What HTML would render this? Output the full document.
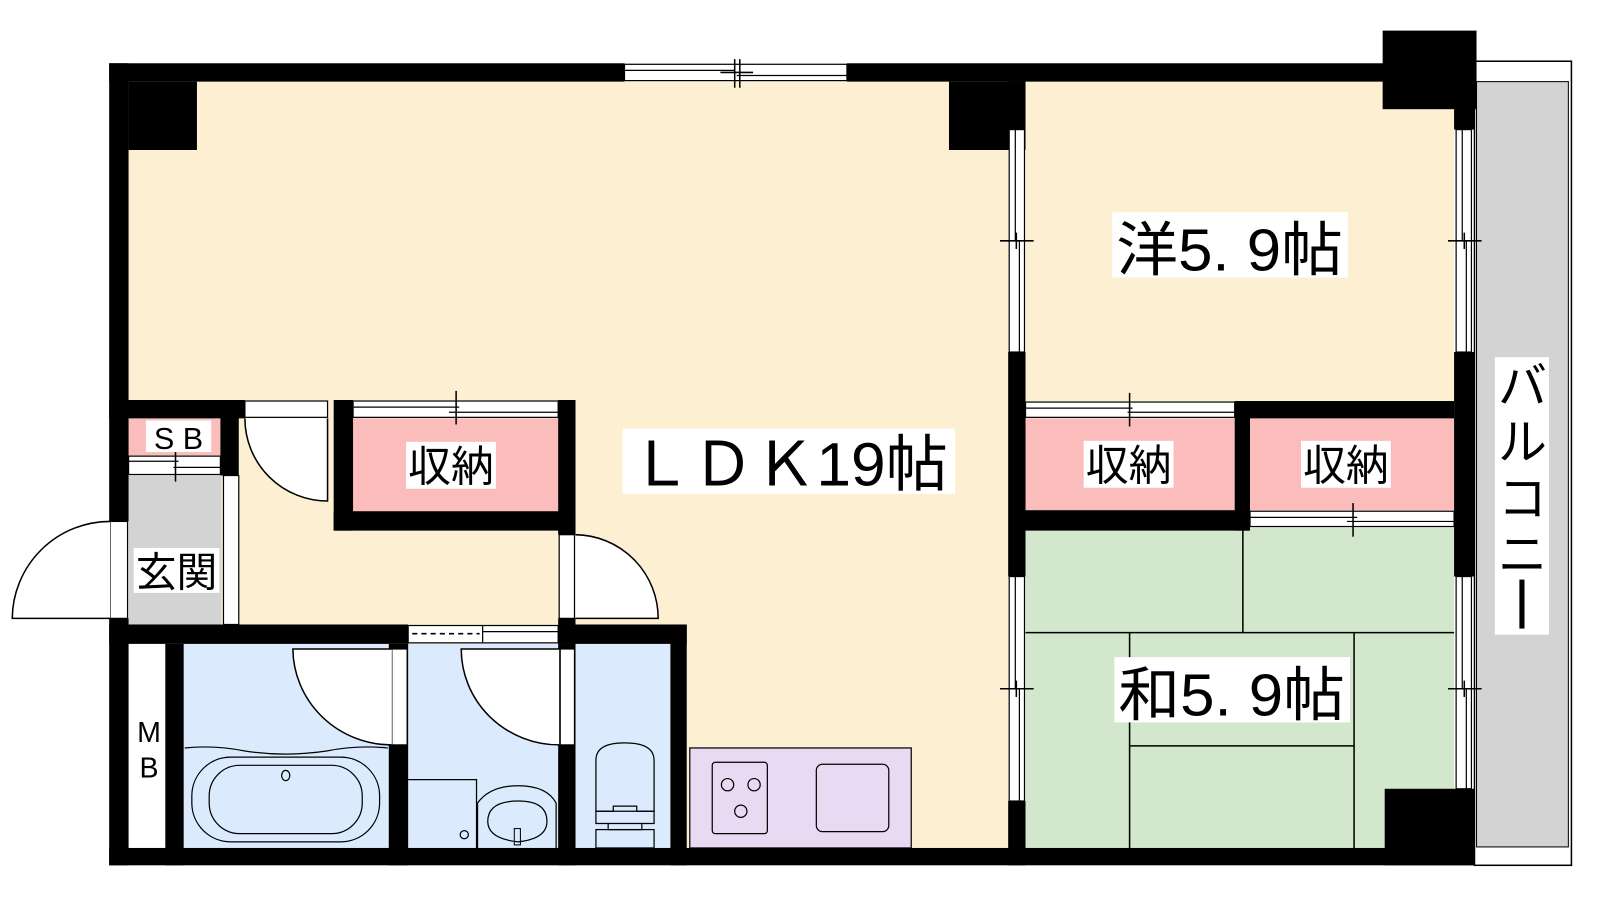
<!DOCTYPE html>
<html><head><meta charset="utf-8"><style>
html,body{margin:0;padding:0;background:#fff;width:1600px;height:900px;overflow:hidden}
svg{display:block}
text{font-family:"Liberation Sans","Noto Sans CJK JP",sans-serif;fill:#000}
</style></head><body>
<svg width="1600" height="900" viewBox="0 0 1568 882" preserveAspectRatio="none" xmlns="http://www.w3.org/2000/svg">
<!-- balcony -->
<rect x="1445" y="60" width="95" height="788" fill="#fff" stroke="#000" stroke-width="1.5"/>
<rect x="1447" y="80" width="90" height="750" fill="#d3d3d3" stroke="#000" stroke-width="1"/>
<!-- room fills -->
<rect x="126" y="80" width="862" height="751" fill="#fdf0d2"/>
<rect x="1005" y="80" width="420" height="313" fill="#fdf0d2"/>
<rect x="1005" y="517" width="420" height="314" fill="#d2e7cc"/>
<rect x="1005" y="410" width="205" height="90" fill="#fbbcbc"/>
<rect x="1225" y="410" width="200" height="90" fill="#fbbcbc"/>
<rect x="346" y="410" width="201" height="91" fill="#fbbcbc"/>
<rect x="126" y="410" width="90" height="36" fill="#fbbcbc"/>
<rect x="126" y="466" width="91" height="146" fill="#d3d3d3"/>
<rect x="126" y="631" width="36" height="200" fill="#fff"/>
<rect x="180" y="631" width="201" height="200" fill="#dbeafd"/>
<rect x="400" y="631" width="147" height="200" fill="#dbeafd"/>
<rect x="564" y="631" width="93" height="200" fill="#dbeafd"/>
<rect x="676" y="733" width="217" height="98" fill="#ead9f2" stroke="#000" stroke-width="1.2"/>
<!-- tatami lines -->
<g stroke="#000" stroke-width="1.5">
<line x1="1218" y1="517" x2="1218" y2="620"/>
<line x1="1005" y1="620" x2="1425" y2="620"/>
<line x1="1107" y1="620" x2="1107" y2="831"/>
<line x1="1327" y1="620" x2="1327" y2="831"/>
<line x1="1107" y1="731" x2="1327" y2="731"/>
</g>
<!-- walls -->
<g fill="#000">
<rect x="107" y="62" width="505" height="18"/>
<rect x="830" y="62" width="617" height="18"/>
<rect x="107" y="62" width="19" height="449"/>
<rect x="107" y="606" width="19" height="242"/>
<rect x="126" y="80" width="67" height="67"/>
<rect x="930" y="80" width="75" height="67"/>
<rect x="988" y="80" width="17" height="47"/>
<rect x="988" y="345" width="17" height="220"/>
<rect x="988" y="785" width="17" height="63"/>
<rect x="1355" y="30" width="92" height="77"/>
<rect x="1425" y="80" width="20" height="47"/>
<rect x="1425" y="345" width="20" height="220"/>
<rect x="1357" y="773" width="88" height="75"/>
<rect x="1005" y="500" width="220" height="20"/>
<rect x="1210" y="393" width="15" height="127"/>
<rect x="1225" y="393" width="200" height="17"/>
<rect x="107" y="831" width="1338" height="17"/>
<rect x="107" y="392" width="133" height="18"/>
<rect x="216" y="392" width="18" height="74"/>
<rect x="327" y="392" width="19" height="128"/>
<rect x="547" y="392" width="17" height="132"/>
<rect x="327" y="501" width="237" height="19"/>
<rect x="107" y="612" width="293" height="19"/>
<rect x="547" y="606" width="17" height="25"/>
<rect x="547" y="612" width="126" height="19"/>
<rect x="657" y="612" width="16" height="236"/>
<rect x="162" y="631" width="18" height="217"/>
<rect x="381" y="631" width="19" height="217"/>
<rect x="547" y="631" width="17" height="217"/>
</g>
<!-- windows / sliding doors -->
<g fill="#fff" stroke="#000" stroke-width="1.2">
<rect x="612" y="63" width="218" height="16"/>
<line x1="612" y1="69" x2="720" y2="69"/><line x1="722" y1="74" x2="830" y2="74"/>
<rect x="989" y="127" width="15" height="218"/>
<line x1="995" y1="127" x2="995" y2="236"/><line x1="999" y1="236" x2="999" y2="345"/>
<rect x="989" y="565" width="15" height="220"/>
<line x1="995" y1="565" x2="995" y2="675"/><line x1="999" y1="675" x2="999" y2="785"/>
<rect x="1427" y="127" width="15" height="218"/>
<line x1="1433" y1="127" x2="1433" y2="236"/><line x1="1437" y1="236" x2="1437" y2="345"/>
<rect x="1427" y="565" width="15" height="208"/>
<line x1="1433" y1="565" x2="1433" y2="675"/><line x1="1437" y1="675" x2="1437" y2="773"/>
<rect x="1005" y="394" width="205" height="15"/>
<line x1="1005" y1="400" x2="1110" y2="400"/><line x1="1105" y1="404" x2="1210" y2="404"/>
<rect x="1225" y="501" width="200" height="15"/>
<line x1="1225" y1="507" x2="1330" y2="507"/><line x1="1320" y1="511" x2="1425" y2="511"/>
<rect x="346" y="393" width="201" height="16"/>
<line x1="346" y1="399" x2="450" y2="399"/><line x1="440" y1="404" x2="547" y2="404"/>
<rect x="126" y="447" width="90" height="18"/>
<line x1="126" y1="452" x2="175" y2="452"/><line x1="170" y1="458" x2="216" y2="458"/>
<rect x="400" y="613" width="147" height="17"/>
<line x1="473" y1="613" x2="473" y2="630"/><line x1="473" y1="619" x2="547" y2="619"/>
<rect x="219" y="466" width="15" height="146"/>
<rect x="108" y="511" width="17" height="95"/>
<rect x="548" y="524" width="15" height="82"/>
<rect x="240" y="393" width="81" height="16"/>
<rect x="384" y="636" width="15" height="94"/>
<rect x="549" y="636" width="14" height="94"/>
</g>
<g stroke="#000" stroke-width="1.5" fill="none">
<line x1="720" y1="58" x2="720" y2="86"/><line x1="725" y1="58" x2="725" y2="86"/><line x1="706" y1="71" x2="738" y2="71"/>
<line x1="980" y1="236" x2="1013" y2="236"/><line x1="996" y1="228" x2="996" y2="244"/>
<line x1="980" y1="675" x2="1013" y2="675"/><line x1="996" y1="667" x2="996" y2="683"/>
<line x1="1419" y1="236" x2="1452" y2="236"/><line x1="1435" y1="228" x2="1435" y2="244"/>
<line x1="1419" y1="675" x2="1452" y2="675"/><line x1="1435" y1="667" x2="1435" y2="683"/>
<line x1="1107" y1="385" x2="1107" y2="418"/>
<line x1="1326" y1="493" x2="1326" y2="526"/>
<line x1="447" y1="383" x2="447" y2="416"/>
<line x1="172" y1="440" x2="172" y2="472"/>
<line x1="404" y1="621" x2="470" y2="621" stroke-dasharray="5,4"/>
<!-- doors -->
<path d="M321 410 L321 491 A81 81 0 0 1 240 410" fill="#fff"/>
<path d="M108 606 L12 606 A96 96 0 0 1 108 511" fill="#fff"/>
<path d="M564 606 L645 606 A82 82 0 0 0 564 524" fill="#fff"/>
<path d="M384 636 L287 636 A97 95 0 0 0 384 730" fill="#fff"/>
<path d="M548 636 L452 636 A96 94 0 0 0 548 730" fill="#fff"/>
<!-- tub -->
<path d="M181 733 Q210 730 240 736 Q280 742 320 736 Q350 730 380 733" stroke-width="1.2"/>
<rect x="188" y="742" width="184" height="83" rx="38" stroke-width="1.2"/>
<rect x="205" y="750" width="150" height="67" rx="30" stroke-width="1.2"/>
<ellipse cx="280" cy="760" rx="4" ry="5" stroke-width="1.2"/>
<!-- wash -->
<path d="M400 764 L467 764 L467 831" stroke-width="1.2"/>
<circle cx="455" cy="818" r="4" stroke-width="1.2"/>
<path d="M468 831 L468 787 Q480 770 508 770 Q536 770 545 787 L545 831" stroke-width="1.2"/>
<path d="M478 805 Q478 785 508 785 Q536 785 536 805 Q536 822 508 825 Q478 822 478 805 Z" stroke-width="1.2"/>
<rect x="504" y="812" width="6" height="16" stroke-width="1"/>
<!-- toilet -->
<path d="M584 795 L584 745 Q584 728 612 728 Q641 728 641 745 L641 795 Z" stroke-width="1.2"/>
<path d="M584 795 L601 795 L601 790 L624 790 L624 795 L641 795 L641 807 L584 807 Z" stroke-width="1.2"/>
<path d="M596 807 L596 813 L629 813 L629 807" stroke-width="1.2"/>
<rect x="584" y="813" width="57" height="18" stroke-width="1.2"/>
<!-- kitchen -->
<rect x="698" y="747" width="54" height="70" rx="3" stroke-width="1.2"/>
<circle cx="713" cy="769" r="6" stroke-width="1.2"/><circle cx="739" cy="769" r="6" stroke-width="1.2"/><circle cx="726" cy="795" r="6" stroke-width="1.2"/>
<rect x="800" y="749" width="71" height="66" rx="6" stroke-width="1.2"/>
</g>
<!-- labels -->
<g>
<rect x="610" y="420" width="326" height="64" fill="#fff"/>
<text x="773" y="476" font-size="60" text-anchor="middle" textLength="312" lengthAdjust="spacingAndGlyphs">ＬＤＫ19帖</text>
<rect x="1090" y="208" width="231" height="64" fill="#fff"/>
<text x="1205" y="265" font-size="58" text-anchor="middle" textLength="222" lengthAdjust="spacingAndGlyphs">洋5. 9帖</text>
<rect x="1092" y="644" width="231" height="64" fill="#fff"/>
<text x="1207" y="701" font-size="58" text-anchor="middle" textLength="222" lengthAdjust="spacingAndGlyphs">和5. 9帖</text>
<rect x="398" y="433" width="88" height="46" fill="#fff"/>
<text x="442" y="472" font-size="42" text-anchor="middle">収納</text>
<rect x="1062" y="432" width="88" height="46" fill="#fff"/>
<text x="1106" y="471" font-size="42" text-anchor="middle">収納</text>
<rect x="1275" y="432" width="88" height="46" fill="#fff"/>
<text x="1319" y="471" font-size="42" text-anchor="middle">収納</text>
<rect x="143" y="412" width="64" height="31" fill="#fff"/>
<text x="175" y="440" font-size="30" text-anchor="middle">S B</text>
<rect x="131" y="537" width="84" height="44" fill="#fff"/>
<text x="173" y="575" font-size="40" text-anchor="middle">玄関</text>
<text x="146" y="727" font-size="28" text-anchor="middle">M</text>
<text x="146" y="762" font-size="28" text-anchor="middle">B</text>
<rect x="1465" y="350" width="53" height="272" fill="#fff"/>
<text x="1492" y="395" font-size="48" text-anchor="middle">バ</text>
<text x="1492" y="450" font-size="48" text-anchor="middle">ル</text>
<text x="1492" y="505" font-size="48" text-anchor="middle">コ</text>
<text x="1492" y="560" font-size="48" text-anchor="middle">ニ</text>
<rect x="1489" y="568" width="5" height="48" fill="#000"/>
</g>
</svg>
</body></html>
